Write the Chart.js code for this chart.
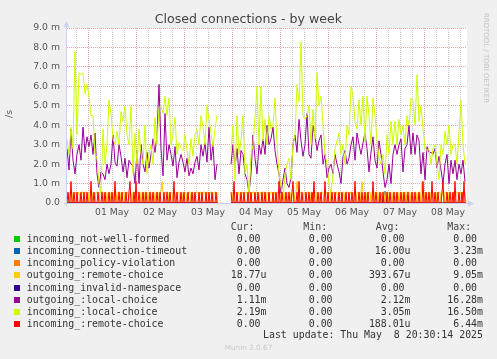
<!DOCTYPE html>
<html>
<head>
<meta charset="utf-8">
<script src="https://cdn.jsdelivr.net/npm/chart.js@4/dist/chart.umd.min.js"></script>
<style>
  html, body { margin: 0; padding: 0; background: #f0f0f0; }
  #wrap { position: relative; width: 497px; height: 359px; overflow: hidden; font-family: 'DejaVu Sans', sans-serif; }
  #chart { position: absolute; left: 0; top: 0; }
  .t { position: absolute; white-space: pre; line-height: 12px; height: 12px; }
  .mono { font-family: 'DejaVu Sans Mono', monospace; font-size: 9.9px; color: #333; }
  .r { text-align: right; }
  .sq { position: absolute; width: 6px; height: 6px; left: 14px; }
</style>
</head>
<body>
<div id="wrap">
  <canvas id="chart" width="497" height="359"></canvas>
  <div class="t" style="left:0;width:497px;top:13px;text-align:center;font-size:12.6px;color:#444;">Closed connections - by week</div>
  <div class="t" style="left:5px;top:108px;font-size:9.3px;color:#555;transform:rotate(-90deg);">/s</div>
  <div class="t" style="left:431px;top:51.5px;width:110px;text-align:center;font-size:7px;color:#c4c4c4;transform:rotate(90deg);">RRDTOOL / TOBI OETIKER</div>
  <div id="legend"></div>
  <div class="t mono r" style="left:200px;width:283px;top:329px;">Last update: Thu May  8 20:30:14 2025</div>
  <div class="t" style="left:0;width:497px;top:342px;text-align:center;font-size:7.3px;color:#c8c8c8;">Munin 2.0.67</div>
</div>
<script>
// x positions are hours since 30 Apr 00:00
const startHour = 13.5;
const endHour = 213.5;
const dayLabels = ['01 May', '02 May', '03 May', '04 May', '05 May', '06 May', '07 May', '08 May'];

// hourly values, in milli-connections per second
const incomingLocal = [
  3.3, 2.5, 3.9, 2.8, 7.8, 3.5, 6.7, 6.6, 6.7, 5.6,
  6.1, 5.5, 4.5, 4.5, 2.5, 2.3, 1.0, 0.5, 3.8, 2.0,
  3.0, 5.3, 4.6, 3.3, 3.0, 3.7, 3.0, 4.7, 4.2, 5.0,
  3.5, 3.0, 5.0, 1.5, 3.6, 2.0, 3.8, 2.5, 2.0, 4.0,
  1.5, 2.5, 3.0, 2.0, 4.4, 3.0, 4.9, 5.0, 4.6, 5.5,
  4.5, 5.4, 3.0, 3.5, 4.4, 2.5, 3.1, 2.8, 2.7, 3.5,
  2.7, 2.0, 3.3, 2.4, 3.5, 3.8, 3.0, 4.5, 3.9, 3.0,
  5.0, 4.3, 3.6, 2.9, 3.8, 4.5, null, null, null, null,
  null, null, 2.7, 4.0, 1.2, 4.5, 2.5, 3.2, 4.5, 1.5,
  2.0, 0.3, 2.5, 3.0, 4.4, 6.0, 3.0, 6.0, 3.2, 4.3,
  3.0, 4.5, 3.8, 4.0, 5.4, 3.0, 1.5, 0.8, 0.3, 1.5,
  2.0, 2.3, 1.2, 3.0, 3.5, 6.1, 5.2, 8.3, 4.5, 4.3,
  4.5, 5.0, 3.0, 4.8, 3.3, 6.7, 5.0, 5.5, 4.0, 2.5,
  2.0, 1.0, 0.5, 1.5, 2.8, 3.2, 3.6, 2.5, 3.0, 2.0,
  4.0, 3.5, 6.0, 5.5, 4.2, 3.8, 5.3, 4.0, 5.5, 3.2,
  5.5, 4.5, 3.0, 5.4, 4.5, 3.2, 2.3, 2.0, 2.5, 1.5,
  3.5, 2.5, 4.2, 3.0, 4.2, 3.0, 4.3, 3.5, 4.0, 3.0,
  4.5, 4.0, 5.4, 5.3, 4.0, 6.6, 4.2, 5.0, 3.8, 2.8,
  2.7, 2.8, 2.0, 2.8, 3.0, 2.0, 1.2, 3.0, 2.5, 3.7,
  3.0, 4.0, 2.5, 3.0, 3.0, 2.0, 3.6, 5.3, 3.0, 2.0
];
const outgoingLocal = [
  2.8, 1.7, 3.8, 2.2, 1.5, 2.5, 3.0, 2.2, 3.9, 2.6,
  3.4, 2.9, 3.5, 2.5, 3.6, 1.5, 0.8, 1.6, 1.5, 1.2,
  2.0, 1.5, 2.0, 3.5, 2.1, 1.9, 3.0, 2.4, 1.6, 2.3,
  1.3, 2.2, 2.0, 1.9, 1.0, 2.7, 1.0, 3.0, 2.0, 1.6,
  2.6, 1.8, 2.5, 3.3, 2.6, 3.5, 6.1, 2.8, 1.4, 4.6,
  2.2, 3.0, 2.5, 1.9, 2.9, 1.3, 2.1, 2.5, 2.1, 1.6,
  2.3, 1.4, 1.8, 1.5, 2.1, 2.4, 1.7, 3.0, 2.4, 3.1,
  2.1, 3.9, 2.2, 3.0, 1.2, 2.0, null, null, null, null,
  null, null, 2.0, 3.0, 1.8, 2.8, 1.5, 2.7, 2.5, 1.5,
  1.2, 0.5, 1.5, 3.5, 2.3, 1.5, 3.0, 2.5, 3.3, 2.5,
  4.0, 3.0, 3.3, 3.9, 2.7, 2.0, 1.5, 0.5, 1.2, 1.8,
  1.0, 0.8, 1.3, 3.0, 3.5, 2.6, 4.3, 3.2, 2.4, 3.0,
  4.6, 2.5, 2.3, 4.0, 3.4, 2.7, 3.2, 3.5, 2.0, 2.5,
  1.3, 1.8, 2.0, 1.5, 2.5, 2.0, 1.6, 1.0, 2.4, 2.7,
  2.0, 2.3, 3.0, 3.4, 2.2, 3.6, 3.0, 2.5, 3.1, 3.6,
  2.8, 1.6, 2.6, 3.4, 2.2, 1.8, 3.2, 2.5, 1.6, 0.8,
  1.2, 2.0, 1.0, 2.5, 3.0, 2.5, 3.0, 3.3, 1.6, 2.8,
  3.0, 4.0, 2.5, 3.6, 2.5, 3.5, 3.2, 1.5, 2.6, 1.2,
  2.9, 2.6, 2.6, 2.5, 2.8, 1.8, 2.4, 1.7, 1.0, 2.0,
  2.5, 1.0, 2.2, 1.5, 2.2, 1.2, 2.0, 1.5, 2.2, 1.1
];
const connectionTimeout = [
  0, 0, 0, 0, 0, 0, 0, 0, 0, 0, 0, 0, 0, 0, 0, 0, 0, 0, 0, 0,
  0, 0, 0, 0, 0, 0, 0, 0, 0, 0, 0, 0, 0, 0, 0, 0, 0, 0, 0, 0,
  0, 0, 0, 0, 0, 0, 0, 0, 0, 0, 0, 0, 0, 0, 0, 0, 0, 0, 0, 0,
  0, 0, 0, 0, 0, 0, 0, 0, 0, 0, 0, 0, 0, 0, 0, 0, null, null, null, null,
  null, null, 0, 0, 0, 0, 0, 0, 0, 0, 0, 0, 0, 0, 0, 0, 0, 0, 0, 0,
  0, 0, 0, 0, 0, 0, 0, 0, 0, 0, 0, 0, 0, 0, 0, 0, 0, 0, 0, 0,
  0, 0, 0, 0, 0, 0, 0, 0, 0, 0, 0, 0, 0, 0, 0, 0, 0, 0, 0, 0,
  0, 0, 0, 0, 0, 0, 0, 0, 0, 0, 0, 0, 0, 0, 0, 0, 0, 0.5, 0, 0.6,
  0, 0, 0, 0, 0, 0, 0, 0, 0, 0, 0.4, 0, 0, 0, 0, 0, 0, 0, 0, 0
];

// half-hourly counts of remote-choice closes (1 close per 30 min = 0.556 m/s)
const outgoingRemoteCount = [
  1, 1, 0, 1, 1, 1, 0, 1, 1, 1, 0, 1, 1, 0, 1, 1, 1, 0, 1, 1,
  1, 0, 1, 1, 1, 0, 1, 1, 0, 1, 1, 1, 0, 1, 1, 1, 1, 0, 1, 1,
  0, 1, 1, 0, 1, 1, 1, 0, 1, 1, 0, 1, 1, 1, 0, 1, 1, 1, 0, 1,
  1, 1, 0, 1, 1, 0, 1, 1, 1, 0, 1, 1, 1, 1, 0, 1, 1, 0, 1, 1,
  1, 0, 1, 1, 1, 0, 1, 1, 0, 1, 1, 1, 0, 1, 1, 2, 1, 0, 1, 1,
  1, 1, 0, 1, 1, 1, 0, 1, 1, 0, 1, 1, 1, 0, 1, 1, 0, 1, 1, 1,
  0, 1, 1, 1, 0, 1, 1, 0, 1, 1, 1, 1, 0, 1, 1, 0, 1, 1, 1, 0,
  1, 1, 0, 1, 1, 1, 0, 1, 1, 1, 0, 1, null, null, null, null, null, null, null, null,
  null, null, null, null, 1, 1, 0, 1, 1, 1, 0, 1, 1, 0, 1, 1, 1, 0, 1, 1,
  1, 0, 1, 1, 0, 1, 1, 1, 0, 1, 1, 1, 0, 1, 1, 0, 1, 1, 1, 0,
  1, 1, 0, 1, 1, 1, 0, 1, 1, 0, 1, 1, 1, 0, 1, 1, 1, 0, 1, 1,
  0, 1, 1, 1, 0, 1, 1, 0, 1, 1, 2, 1, 0, 1, 1, 1, 0, 1, 1, 0,
  1, 1, 1, 0, 1, 1, 0, 1, 1, 1, 0, 1, 1, 0, 1, 1, 1, 0, 1, 1,
  1, 0, 1, 1, 0, 1, 1, 1, 0, 1, 1, 0, 1, 1, 1, 0, 1, 1, 0, 1,
  1, 1, 0, 1, 1, 1, 0, 1, 1, 0, 1, 1, 1, 0, 1, 2, 1, 0, 1, 1,
  0, 1, 1, 1, 0, 1, 1, 0, 1, 1, 1, 0, 1, 1, 0, 1, 1, 1, 0, 1,
  1, 1, 0, 1, 1, 0, 1, 1, 1, 0, 1, 1, 0, 1, 1, 1, 0, 1, 1, 0,
  1, 1, 1, 0, 1, 1, 0, 1, 1, 1, 0, 1, 1, 0, 1, 2, 1, 0, 1, 1,
  0, 1, 1, 0, 1, 1, 1, 0, 1, 1, 0, 1, 1, 1, 0, 1, 1, 0, 1, 1,
  1, 0, 1, 1, 1, 0, 1, 1, 0, 1, 1, 1, 0, 1, 1, 0, 1, 1, 1, 0
];
const incomingRemoteCount = [
  0, 1, 0, 0, 2, 0, 0, 1, 0, 0, 1, 0, 0, 0, 1, 0, 0, 1, 0, 0,
  1, 0, 0, 0, 2, 0, 0, 1, 0, 0, 0, 1, 0, 0, 0, 1, 0, 0, 1, 0,
  0, 0, 1, 0, 0, 1, 0, 0, 2, 0, 0, 0, 1, 0, 0, 1, 0, 0, 0, 1,
  0, 0, 1, 2, 0, 0, 0, 1, 0, 2, 0, 0, 1, 0, 0, 0, 1, 0, 0, 1,
  0, 0, 0, 1, 0, 0, 1, 0, 0, 0, 1, 0, 0, 1, 0, 0, 0, 1, 0, 0,
  1, 0, 0, 1, 0, 0, 0, 2, 0, 0, 1, 0, 0, 0, 1, 0, 0, 1, 0, 0,
  0, 1, 0, 0, 0, 1, 0, 0, 1, 0, 0, 0, 1, 0, 0, 1, 0, 0, 0, 1,
  0, 0, 1, 0, 0, 1, 0, 0, 0, 1, 0, 0, null, null, null, null, null, null, null, null,
  null, null, null, null, 1, 0, 0, 2, 0, 0, 1, 0, 0, 0, 1, 0, 0, 1, 0, 0,
  0, 1, 0, 0, 1, 0, 0, 0, 1, 0, 0, 1, 0, 0, 0, 1, 0, 0, 1, 0,
  0, 0, 1, 0, 0, 0, 1, 0, 0, 1, 0, 0, 2, 0, 0, 1, 0, 0, 0, 1,
  0, 0, 1, 0, 0, 1, 2, 0, 0, 0, 1, 0, 2, 0, 0, 1, 0, 0, 0, 1,
  0, 0, 1, 0, 0, 1, 0, 2, 0, 0, 0, 1, 0, 0, 1, 0, 0, 0, 2, 0,
  0, 1, 0, 0, 0, 1, 0, 0, 1, 0, 0, 0, 1, 0, 0, 1, 0, 0, 0, 1,
  0, 0, 1, 0, 0, 1, 0, 0, 2, 0, 0, 0, 1, 0, 0, 1, 0, 0, 1, 0,
  0, 1, 0, 0, 0, 0, 2, 0, 0, 1, 0, 0, 0, 1, 0, 0, 1, 0, 0, 0,
  1, 0, 0, 1, 0, 0, 0, 1, 0, 0, 1, 0, 0, 0, 1, 0, 0, 1, 0, 0,
  0, 1, 0, 0, 0, 1, 0, 0, 1, 0, 0, 0, 1, 0, 0, 0, 2, 0, 0, 1,
  0, 0, 1, 0, 0, 2, 0, 0, 1, 0, 0, 1, 0, 0, 0, 1, 2, 0, 0, 0,
  1, 0, 0, 1, 0, 0, 1, 0, 2, 0, 0, 0, 1, 0, 0, 1, 0, 2, 0, 0
];
const perHalfHour = 1000 / 1800; // one event per 30 min, in m/s
const outgoingRemote = outgoingRemoteCount.map((c) => (c === null ? null : c * perHalfHour));
const incomingRemote = incomingRemoteCount.map((c) => (c === null ? null : c * perHalfHour));

// the three remaining series are 0.00 everywhere (same gap as the others)
const zeroValues = incomingLocal.map((v) => (v === null ? null : 0));

const series = [
  { name: 'incoming_not-well-formed', color: '#00cc00', values: zeroValues, step: 1, stats: ['0.00 ', '0.00 ', '0.00 ', '0.00 '] },
  { name: 'incoming_connection-timeout', color: '#0066b3', values: connectionTimeout, step: 1, stats: ['0.00 ', '0.00 ', '16.00u', '3.23m'] },
  { name: 'incoming_policy-violation', color: '#ff8000', values: zeroValues, step: 1, stats: ['0.00 ', '0.00 ', '0.00 ', '0.00 '] },
  { name: 'outgoing_:remote-choice', color: '#ffcc00', values: outgoingRemote, step: 0.5, stats: ['18.77u', '0.00 ', '393.67u', '9.05m'] },
  { name: 'incoming_invalid-namespace', color: '#330099', values: zeroValues, step: 1, stats: ['0.00 ', '0.00 ', '0.00 ', '0.00 '] },
  { name: 'outgoing_:local-choice', color: '#990099', values: outgoingLocal, step: 1, stats: ['1.11m', '0.00 ', '2.12m', '16.28m'] },
  { name: 'incoming_:local-choice', color: '#ccff00', values: incomingLocal, step: 1, stats: ['2.19m', '0.00 ', '3.05m', '16.50m'] },
  { name: 'incoming_:remote-choice', color: '#ff0000', values: incomingRemote, step: 0.5, stats: ['0.00 ', '0.00 ', '188.01u', '6.44m'] }
];

// legend table, munin style
const legend = document.getElementById('legend');
const colRight = [266.5, 338.5, 410.5, 483];
const heads = ['Cur:', 'Min:', 'Avg:', 'Max:'];
const headLeft = [230.7, 303.3, 375.7, 447.3];
heads.forEach((h, i) => {
  legend.insertAdjacentHTML('beforeend',
    `<div class="t mono" style="left:${headLeft[i]}px;top:${227.3 - 6}px;color:#444;">${h}</div>`);
});
series.forEach((s, k) => {
  const cy = 239.3 + k * 12.05;
  legend.insertAdjacentHTML('beforeend',
    `<div class="sq" style="top:${cy - 3}px;background:${s.color};"></div>` +
    `<div class="t mono" style="left:26.7px;top:${cy - 6}px;">${s.name}</div>`);
  s.stats.forEach((v, i) => {
    legend.insertAdjacentHTML('beforeend',
      `<div class="t mono r" style="left:${colRight[i] - 80}px;width:80px;top:${cy - 6}px;">${v}</div>`);
  });
});

const frame = {
  id: 'frame',
  beforeDraw(chart) {
    const { ctx, chartArea: a } = chart;
    ctx.save();
    ctx.fillStyle = '#ffffff';
    ctx.fillRect(a.left, a.top, a.right - a.left, a.bottom - a.top);
    ctx.restore();
  },
  afterDatasetsDraw(chart) {
    const { ctx, chartArea: a } = chart;
    ctx.save();
    ctx.strokeStyle = '#cdd0f4';
    ctx.fillStyle = '#cdd0f4';
    ctx.lineWidth = 1;
    ctx.beginPath();
    ctx.moveTo(a.left - 0.5, a.bottom + 3);
    ctx.lineTo(a.left - 0.5, a.top - 4);
    ctx.moveTo(a.left - 3, a.bottom + 0.5);
    ctx.lineTo(a.right + 3, a.bottom + 0.5);
    ctx.stroke();
    ctx.beginPath();
    ctx.moveTo(a.left - 0.5, a.top - 7);
    ctx.lineTo(a.left - 3.5, a.top - 1);
    ctx.lineTo(a.left + 2.5, a.top - 1);
    ctx.fill();
    ctx.beginPath();
    ctx.moveTo(a.right + 7, a.bottom + 0.5);
    ctx.lineTo(a.right + 1, a.bottom - 2.5);
    ctx.lineTo(a.right + 1, a.bottom + 3.5);
    ctx.fill();
    ctx.restore();
  }
};

Chart.defaults.font.family = "'DejaVu Sans', sans-serif";
Chart.defaults.color = '#555';

const majorGrid = 'rgba(236, 150, 150, 0.85)';
const minorGrid = 'rgba(190, 190, 190, 0.75)';

new Chart(document.getElementById('chart'), {
  type: 'line',
  data: {
    datasets: series.map((s, k) => ({
      label: s.name,
      data: s.values.map((v, i) => ({ x: startHour + i * s.step, y: v })),
      borderColor: s.color,
      backgroundColor: s.color,
      borderWidth: 1,
      pointRadius: 0,
      tension: 0,
      spanGaps: false,
      order: series.length - k
    }))
  },
  options: {
    responsive: false,
    animation: false,
    devicePixelRatio: 1,
    layout: { padding: { left: 0, top: 28, right: 30, bottom: 136 } },
    plugins: { legend: { display: false }, title: { display: false }, tooltip: { enabled: false } },
    scales: {
      x: {
        type: 'linear',
        min: startHour,
        max: endHour,
        afterFit: (s) => { s.height = 20; },
        afterBuildTicks: (s) => {
          const ticks = [];
          for (let h = 18; h < endHour; h += 6) ticks.push({ value: h });
          s.ticks = ticks;
        },
        border: { display: false, dash: [1, 1] },
        grid: {
          drawTicks: false,
          color: (c) => (c.tick && c.tick.value % 24 === 0 ? majorGrid : minorGrid)
        },
        ticks: {
          autoSkip: false,
          maxRotation: 0,
          padding: 4,
          font: { size: 9.3 },
          color: '#555',
          callback: (v) => (v % 24 === 12 ? dayLabels[(v - 36) / 24] || '' : '')
        }
      },
      y: {
        min: 0,
        max: 9,
        afterFit: (s) => { s.width = 67; },
        border: { display: false, dash: [1, 1] },
        grid: {
          drawTicks: false,
          color: (c) => (c.tick && c.tick.value % 1 === 0 ? majorGrid : minorGrid)
        },
        ticks: {
          stepSize: 0.5,
          padding: 7,
          font: { size: 9.3 },
          color: '#555',
          callback: (v) => (v % 1 !== 0 ? '' : v === 0 ? '0.0' : v.toFixed(1) + ' m')
        }
      }
    }
  },
  plugins: [frame]
});
</script>
</body>
</html>
